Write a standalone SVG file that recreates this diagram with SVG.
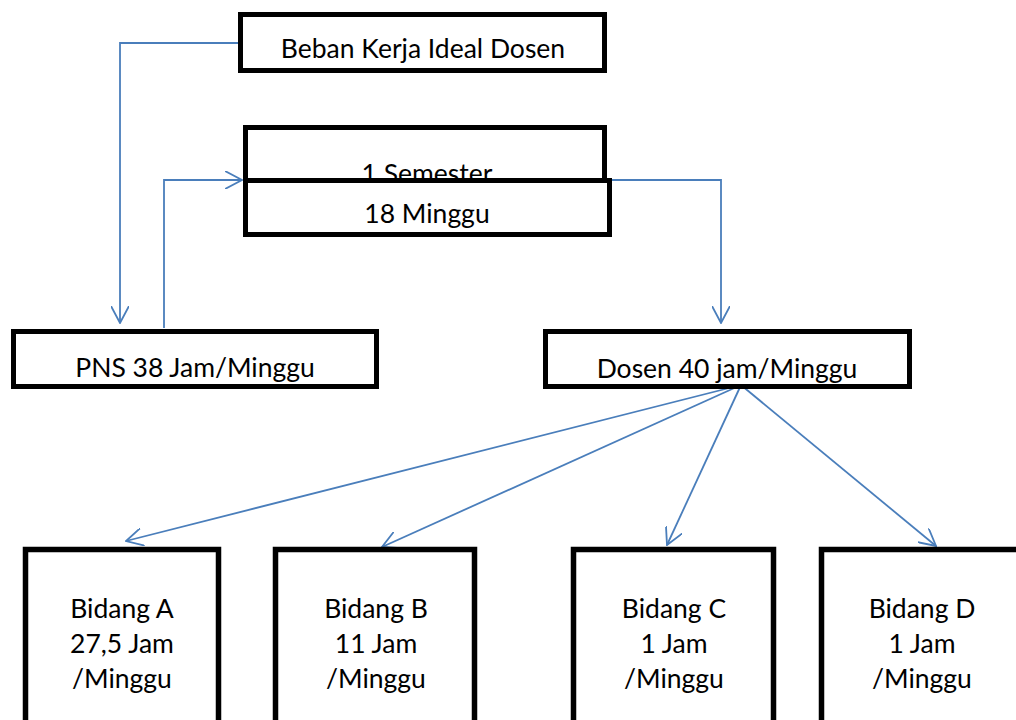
<svg xmlns="http://www.w3.org/2000/svg" width="1016" height="720" viewBox="0 0 1016 720">
<style>
.box{fill:#fff;stroke:#000;stroke-width:5}
.bb{fill:#fff;stroke:#000;stroke-width:5.5}
.t{font-family:Lato,"Open Sans","Liberation Sans",sans-serif;font-size:26.5px;fill:#000;text-anchor:middle}
.c{fill:none;stroke:#4A7EBB;stroke-width:1.8}
</style>
<defs>
<marker id="ah" viewBox="0 0 18 18" refX="17" refY="9" markerWidth="18" markerHeight="18" markerUnits="userSpaceOnUse" orient="auto">
<path d="M0,0 L17,9 L0,18" fill="none" stroke="#4A7EBB" stroke-width="1.8"/>
</marker>
</defs>
<rect width="1016" height="720" fill="#fff"/>
<g id="connectors">
<path class="c" d="M238,43 H120 V323" marker-end="url(#ah)"/>
<path class="c" d="M164,328 V180 H242" marker-end="url(#ah)"/>
<path class="c" d="M612,180 H721 V323" marker-end="url(#ah)"/>
<path class="c" d="M741,385 L126,541" marker-end="url(#ah)"/>
<path class="c" d="M741,385 L382,547" marker-end="url(#ah)"/>
<path class="c" d="M741,385 L667,545" marker-end="url(#ah)"/>
<path class="c" d="M741,385 L936,546" marker-end="url(#ah)"/>
</g>
<g id="beban">
<rect class="box" x="240.5" y="14.5" width="364" height="56"/>
<text class="t" x="423" y="58">Beban Kerja Ideal Dosen</text>
</g>
<g id="semester">
<rect class="box" x="245.5" y="127.5" width="359" height="53"/>
<text class="t" x="427" y="183">1 Semester</text>
</g>
<g id="minggu">
<rect class="box" x="245.5" y="180.5" width="364" height="54"/>
<text class="t" x="427" y="223">18 Minggu</text>
</g>
<g id="pns">
<rect class="box" x="13.5" y="331.5" width="363" height="55"/>
<text class="t" x="195" y="377">PNS 38 Jam/Minggu</text>
</g>
<g id="dosen">
<rect class="box" x="545.5" y="331.5" width="364" height="55"/>
<text class="t" x="727" y="378">Dosen 40 jam/Minggu</text>
</g>
<g id="bidangA">
<rect class="bb" x="25.5" y="549.5" width="193" height="190"/>
<text class="t" x="122" y="618">Bidang A</text>
<text class="t" x="122" y="653">27,5 Jam</text>
<text class="t" x="122" y="688">/Minggu</text>
</g>
<g id="bidangB">
<rect class="bb" x="275.5" y="549.5" width="199" height="190"/>
<text class="t" x="376" y="618">Bidang B</text>
<text class="t" x="376" y="653">11 Jam</text>
<text class="t" x="376" y="688">/Minggu</text>
</g>
<g id="bidangC">
<rect class="bb" x="573.5" y="549.5" width="200" height="190"/>
<text class="t" x="674" y="618">Bidang C</text>
<text class="t" x="674" y="653">1 Jam</text>
<text class="t" x="674" y="688">/Minggu</text>
</g>
<g id="bidangD">
<rect class="bb" x="821.5" y="549.5" width="200" height="190"/>
<text class="t" x="922" y="618">Bidang D</text>
<text class="t" x="922" y="653">1 Jam</text>
<text class="t" x="922" y="688">/Minggu</text>
</g>
</svg>
